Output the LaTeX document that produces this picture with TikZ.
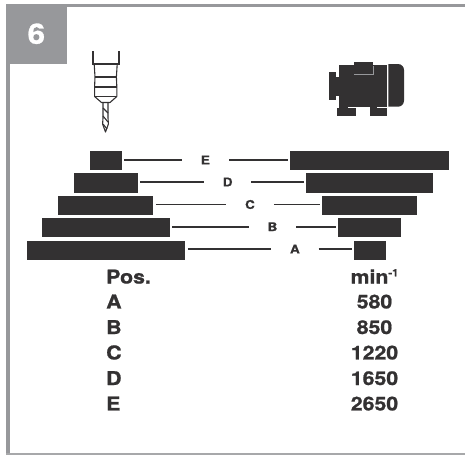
\documentclass[tikz,border=0pt]{standalone}
\usepackage{fontspec}
\setmainfont[FakeStretch=1.12,BoldFeatures={FakeBold=1}]{TeX Gyre Heros}
\definecolor{framegrey}{HTML}{97989B}
\definecolor{ink}{HTML}{333132}
\tikzset{
  x=1pt,y=-1pt,
  barbox/.style={rectangle,fill=ink,draw=none,inner sep=0pt,outer xsep=2.5pt,outer ysep=0pt,minimum height=19.3pt},
  poslabel/.style={inner sep=0pt,outer sep=0pt,minimum width=47.5pt,font=\bfseries\fontsize{12}{14}\selectfont,text=ink},
  conn/.style={draw=ink,line width=1.8pt},
  tabletext/.style={inner sep=0pt,outer sep=0pt,font=\bfseries\fontsize{19}{21}\selectfont,text=ink},
  drillline/.style={draw=ink,line width=1.1pt,line join=round},
  drillthick/.style={draw=ink,line width=2pt},
  motorfill/.style={fill=ink,draw=none},
  motorseam/.style={draw=framegrey,line width=.9pt}
}
\begin{document}
\begin{tikzpicture}
\useasboundingbox (0,0) rectangle (465,455);
% frame
\fill[framegrey] (6,4) rectangle (465,7.3);
\fill[framegrey] (6,4) rectangle (10,455);
\fill[framegrey!85] (6,453) rectangle (465,455);
\node[fill=framegrey,inner sep=0pt,minimum width=60.7pt,minimum height=59.5pt,text=white,font=\bfseries\fontsize{28}{30}\selectfont] (badge) at (36.35,33.75) {6};
% drill chuck
\draw[drillthick] (92.6,51) -- (92.6,63.5) -- (118.8,63.5) -- (118.8,51);
\draw[drillline] (94.2,64) -- (95,77) -- (94.6,86.5) -- (94.6,96.5) -- (101.5,102.5) -- (110,102.5) -- (116.8,96.5) -- (116.8,86.5) -- (116.4,77) -- (117.2,64);
\draw[drillline] (95,77) -- (116.4,77);
\draw[drillthick] (94.6,86.5) -- (116.8,86.5);
\draw[drillline] (94.6,96.5) -- (116.8,96.5);
\draw[drillline] (103,102.5) -- (103,118) -- (102.6,124) -- (105.5,132) -- (108.4,124) -- (108,118) -- (108,102.5);
\draw[drillline] (103,108) -- (108,113) (103,116) -- (108,122) (103,124) -- (107,129);
% motor
\fill[motorfill] (329.3,72.3) rectangle (335.7,100);
\fill[motorfill] (335.7,77.3) rectangle (339.3,96);
\fill[motorfill] (339.3,65) rectangle (387.3,106.7);
\fill[motorfill] (354,61.7) rectangle (373.3,75);
\fill[motorfill] (339,106) rectangle (348,109);
\fill[motorfill] (370,106) rectangle (377,109);
\fill[motorfill] (337.3,108.3) rectangle (355.7,116);
\fill[motorfill] (370,108.3) rectangle (387.3,116);
\fill[motorfill] (388.3,64) [rounded corners=6pt] -- (404,64) -- (404,106.7) [sharp corners] -- (388.3,106.7) -- cycle;
\draw[motorseam] (354,74.5) -- (373,74.5) -- (373,66);
% bars
\node[barbox,minimum width=31.7pt]  (eL) at (105.85,160.6) {};
\node[barbox,minimum width=63.7pt]  (dL) at (105.85,183) {};
\node[barbox,minimum width=95pt]    (cL) at (105.85,205.35) {};
\node[barbox,minimum width=127.4pt] (bL) at (106,227.8) {};
\node[barbox,minimum width=158.3pt] (aL) at (106.15,250.2) {};
\node[barbox,minimum width=159pt]   (eR) at (369.8,160.6) {};
\node[barbox,minimum width=127pt]   (dR) at (369.8,183) {};
\node[barbox,minimum width=95pt]    (cR) at (369.8,205.35) {};
\node[barbox,minimum width=63.3pt]  (bR) at (369.65,227.8) {};
\node[barbox,minimum width=31.7pt]  (aR) at (369.85,250.2) {};
% position labels
\node[poslabel] (eT) at (205.4,160) {E};
\node[poslabel] (dT) at (227.7,182) {D};
\node[poslabel] (cT) at (250,204.5) {C};
\node[poslabel] (bT) at (272.5,226.7) {B};
\node[poslabel] (aT) at (294.9,249) {A};
% connectors
\draw[conn] (eL.east |- eT) -- (eT) (eT) -- (eR.west |- eT);
\draw[conn] (dL.east |- dT) -- (dT) (dT) -- (dR.west |- dT);
\draw[conn] (cL.east |- cT) -- (cT) (cT) -- (cR.west |- cT);
\draw[conn] (bL.east |- bT) -- (bT) (bT) -- (bR.west |- bT);
\draw[conn] (aL.east |- aT) -- (aT) (aT) -- (aR.west |- aT);
% table
\node[tabletext,anchor=base west] (hPos) at (106.2,283.5) {Pos.};
\node[tabletext,anchor=base west] (rA) at (106.2,308.4) {A};
\node[tabletext,anchor=base west] (rB) at (106.2,334) {B};
\node[tabletext,anchor=base west] (rC) at (106.2,359.4) {C};
\node[tabletext,anchor=base west] (rD) at (106.2,385) {D};
\node[tabletext,anchor=base west] (rE) at (106.2,410.4) {E};
\node[tabletext,anchor=base] (hMin) at (374.5,283.5) {min\raisebox{.38em}{\fontsize{10}{12}\selectfont -1}};
\node[tabletext,anchor=base] (vA) at (374.5,308.4) {580};
\node[tabletext,anchor=base] (vB) at (374.5,334) {850};
\node[tabletext,anchor=base] (vC) at (374.5,359.4) {1220};
\node[tabletext,anchor=base] (vD) at (374.5,385) {1650};
\node[tabletext,anchor=base] (vE) at (374.5,410.4) {2650};
\end{tikzpicture}
\end{document}
